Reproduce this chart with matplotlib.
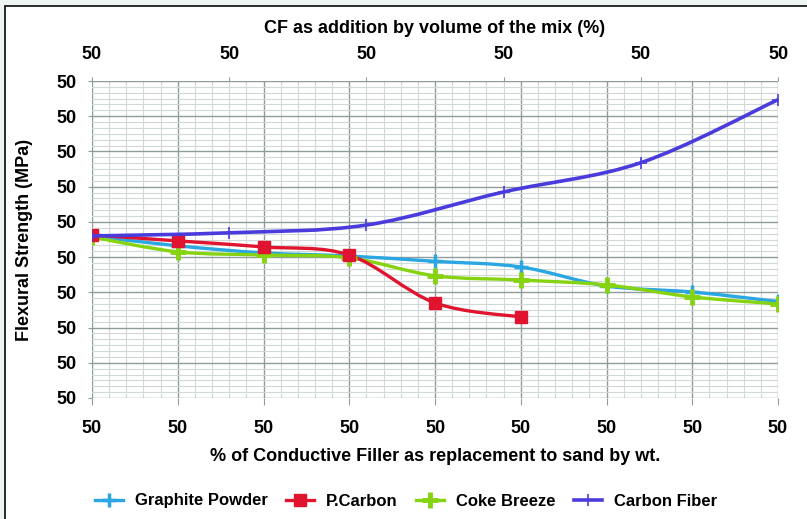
import numpy as np
import matplotlib.pyplot as plt
from matplotlib.path import Path
from matplotlib.patches import PathPatch, Rectangle
from matplotlib.lines import Line2D
from matplotlib.ticker import MultipleLocator

plt.rcParams['font.family'] = ['Liberation Sans', 'DejaVu Sans']
plt.rcParams['font.weight'] = 'bold'

# % replacement to sand by wt. (bottom axis positions)
x_wt = [0, 1, 2, 3, 4, 5, 6, 7, 8]
graphite = [4.60, 4.32, 4.12, 4.03, 3.88, 3.72, 3.18, 3.01, 2.74]
pcarbon = [4.63, 4.46, 4.29, 4.06, 2.70, 2.30]
coke = [4.57, 4.15, 4.06, 3.98, 3.47, 3.35, 3.21, 2.87, 2.67]

# CF addition by volume (top axis positions)
x_cf = [0, 1, 2, 3, 4, 5]
carbon_fiber = [4.60, 4.69, 4.91, 5.85, 6.68, 8.47]

bottom_labels = ['50'] * 9
top_labels = ['50'] * 6
y_labels = ['50'] * 10


def smooth_path(xs, ys):
    # Catmull-Rom style bezier, same idea as the spreadsheet "smoothed line"
    pts = np.column_stack([xs, ys]).astype(float)
    verts = [pts[0]]
    codes = [Path.MOVETO]
    n = len(pts)
    for i in range(n - 1):
        p0 = pts[max(i - 1, 0)]
        p1 = pts[i]
        p2 = pts[i + 1]
        p3 = pts[min(i + 2, n - 1)]
        c1 = p1 + (p2 - p0) / 6.0
        c2 = p2 - (p3 - p1) / 6.0
        verts += [c1, c2, p2]
        codes += [Path.CURVE4] * 3
    return Path(verts, codes)


def draw_series(ax, xs, ys, color, marker, ms, mew, lw):
    ax.add_patch(PathPatch(smooth_path(xs, ys), fill=False, edgecolor=color,
                           lw=lw, capstyle='round', joinstyle='round', zorder=4))
    ax.plot(xs, ys, ls='none', marker=marker, ms=ms, mew=mew,
            color=color, mec=color, zorder=5)


fig = plt.figure(figsize=(8.07, 5.19), dpi=100)
fig.patch.set_facecolor('#eef5f3')
fig.patches.append(Rectangle((5 / 807, -0.05), 1.1, 1 - 6 / 519 + 0.05,
                             transform=fig.transFigure, facecolor='white',
                             edgecolor='#1a1a1a', lw=1.3, zorder=-10))

ax = fig.add_axes([92 / 807, 1 - 398 / 519, (778 - 92) / 807, (398 - 81) / 519])
ax.set_facecolor('none')
ax.set_xlim(0, 8)
ax.set_ylim(0, 9)

c_graph = '#2aa6e2'
c_red = '#e0142e'
c_green = '#86d311'
c_cf = '#4a3cdc'

draw_series(ax, x_wt, graphite, c_graph, '+', 10, 2.5, 2.4)
draw_series(ax, x_wt, coke, c_green, '+', 11, 3.5, 2.4)
draw_series(ax, x_wt[:len(pcarbon)], pcarbon, c_red, 's', 9, 1, 2.4)

ax.set_xticks(x_wt)
ax.set_xticklabels(bottom_labels)
ax.set_yticks(range(10))
ax.set_yticklabels(y_labels)
ax.xaxis.set_minor_locator(MultipleLocator(0.2))
ax.yaxis.set_minor_locator(MultipleLocator(1 / 6))
ax.grid(True, which='major', color='#8f9c9c', lw=1.0, zorder=0)
ax.grid(True, which='minor', color='#d0d8d8', lw=0.8, zorder=0)
ax.set_axisbelow(True)
for s in ax.spines.values():
    s.set_visible(False)
ax.tick_params(axis='x', which='major', length=5, pad=11, labelsize=13,
               color='#8f9c9c')
ax.tick_params(axis='y', which='major', length=3, pad=8, labelsize=13,
               color='#8f9c9c')
ax.tick_params(which='minor', length=0)
ax.set_xlabel('% of Conductive Filler as replacement to sand by wt.',
              fontsize=13, fontweight='bold', labelpad=8)
ax.set_ylabel('Flexural Strength (MPa)', fontsize=13, fontweight='bold',
              labelpad=17)

ax2 = ax.twiny()
ax2.set_xlim(0, 5)
ax2.set_xticks(x_cf)
ax2.set_xticklabels(top_labels)
for s in ax2.spines.values():
    s.set_visible(False)
ax2.tick_params(axis='x', length=3, pad=10, labelsize=13, color='#8f9c9c')
ax2.set_xlabel('CF as addition by volume of the mix (%)', fontsize=13,
               fontweight='bold', labelpad=9)
draw_series(ax2, x_cf, carbon_fiber, c_cf, '+', 9, 1.2, 2.6)

handles = [
    Line2D([], [], color=c_graph, lw=2.4, marker='+', ms=10, mew=2.5),
    Line2D([], [], color=c_red, lw=2.4, marker='s', ms=9),
    Line2D([], [], color=c_green, lw=2.4, marker='+', ms=11, mew=3.5),
    Line2D([], [], color=c_cf, lw=2.6, marker='+', ms=9, mew=1.2),
]
fig.legend(handles, ['Graphite Powder', 'P.Carbon', 'Coke Breeze', 'Carbon Fiber'],
           loc='center', bbox_to_anchor=(0.503, 1 - 501 / 519), ncol=4,
           frameon=False, handlelength=1.7, handletextpad=0.7,
           columnspacing=1.1, prop={'weight': 'bold', 'size': 12})

fig.savefig('out.png', dpi=100)
